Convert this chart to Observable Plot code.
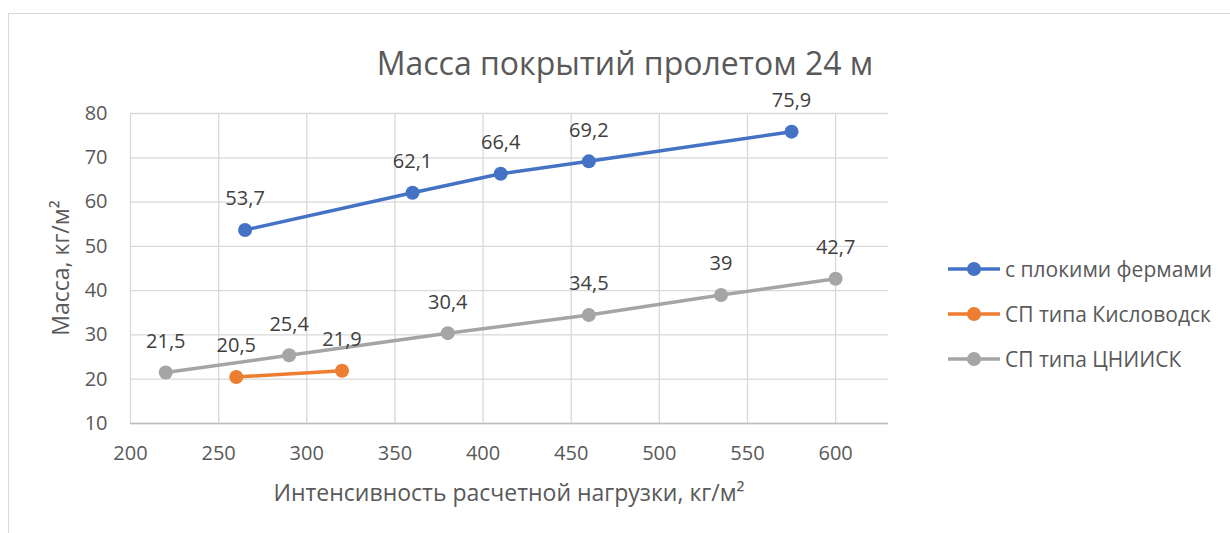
<!DOCTYPE html>
<html><head><meta charset="utf-8">
<script src="https://cdn.jsdelivr.net/npm/d3@7"></script>
<script src="https://cdn.jsdelivr.net/npm/@observablehq/plot@0.6"></script>
<style>
html,body{margin:0;padding:0;background:#fff;}
#wrap{position:relative;width:1230px;height:533px;font-family:"Open Sans",sans-serif;overflow:hidden;}
#frame{position:absolute;left:8px;top:13px;width:1300px;height:600px;border:1px solid #d9d9d9;box-sizing:border-box;}
.t{position:absolute;color:#595959;white-space:nowrap;}
#title{left:0;width:1250px;text-align:center;top:41px;font-size:32px;line-height:1.362;}
#xt{left:130px;width:758px;text-align:center;top:477px;font-size:23px;line-height:1.362;}
#yt{left:60px;top:268px;font-size:23px;transform:translate(-50%,-50%) rotate(-90deg);}
#legend{position:absolute;left:946px;top:246px;}
.li{display:flex;align-items:center;height:45px;font-size:21px;color:#595959;}
.li svg{margin-right:3px;}
#chart{position:absolute;left:0;top:0;}
</style></head>
<body><div id="wrap"><div id="frame"></div><div id="chart"></div>
<div class="t" id="title"></div><div class="t" id="xt"></div><div class="t" id="yt"></div><div id="legend"></div></div>
<script>
const chartTitle = "Масса покрытий пролетом 24 м";
const xTitle = "Интенсивность расчетной нагрузки, кг/м²";
const yTitle = "Масса, кг/м²";
const seriesNames = ["с плокими фермами", "СП типа Кисловодск", "СП типа ЦНИИСК"];
const seriesColors = ["#4472C4", "#ED7D31", "#A5A5A5"];
const blueX = [265, 360, 410, 460, 575];
const blueY = [53.7, 62.1, 66.4, 69.2, 75.9];
const orangeX = [260, 320];
const orangeY = [20.5, 21.9];
const grayX = [220, 290, 380, 460, 535, 600];
const grayY = [21.5, 25.4, 30.4, 34.5, 39, 42.7];
const xTicks = [200, 250, 300, 350, 400, 450, 500, 550, 600];
const yTicks = [10, 20, 30, 40, 50, 60, 70, 80];

const toRows = (xs, ys, s) => xs.map((x, i) => ({x, y: ys[i], s}));
const data = [
  ...toRows(blueX, blueY, seriesNames[0]),
  ...toRows(orangeX, orangeY, seriesNames[1]),
  ...toRows(grayX, grayY, seriesNames[2])
];
const fmt = v => String(v).replace(".", ",");

document.getElementById("title").textContent = chartTitle;
document.getElementById("xt").textContent = xTitle;
document.getElementById("yt").textContent = yTitle;

const plot = Plot.plot({
  width: 1230, height: 533,
  marginLeft: 130, marginRight: 342, marginTop: 113, marginBottom: 110,
  style: {fontFamily: "Open Sans, sans-serif", background: "transparent"},
  x: {domain: [200, 630]},
  y: {domain: [10, 80]},
  color: {domain: seriesNames, range: seriesColors},
  marks: [
    Plot.gridX(xTicks, {stroke: "#d9d9d9", strokeOpacity: 1, strokeWidth: 1.3}),
    Plot.gridY(yTicks, {stroke: "#d9d9d9", strokeOpacity: 1, strokeWidth: 1.3}),
    Plot.ruleY([10], {stroke: "#bfbfbf", strokeWidth: 1.5}),
    Plot.axisX(xTicks, {tickSize: 0, tickPadding: 22, fontSize: 20, color: "#595959", label: null}),
    Plot.axisY(yTicks, {tickSize: 0, tickPadding: 23, fontSize: 20, color: "#595959", label: null}),
    Plot.line(data, {x: "x", y: "y", z: "s", stroke: "s", strokeWidth: 3.5}),
    Plot.dot(data, {x: "x", y: "y", fill: "s", r: 7}),
    Plot.text(data, {x: "x", y: "y", text: d => fmt(d.y), dy: -31, fontSize: 20, fill: "#404040"})
  ]
});
document.getElementById("chart").appendChild(plot);

const leg = document.getElementById("legend");
seriesNames.forEach((n, i) => {
  const row = document.createElement("div");
  row.className = "li";
  row.innerHTML = `<svg width="56" height="16"><line x1="2" x2="54" y1="8" y2="8" stroke="${seriesColors[i]}" stroke-width="3.5"/><circle cx="28" cy="8" r="7" fill="${seriesColors[i]}"/></svg><span></span>`;
  row.querySelector("span").textContent = n;
  leg.appendChild(row);
});
</script></body></html>
